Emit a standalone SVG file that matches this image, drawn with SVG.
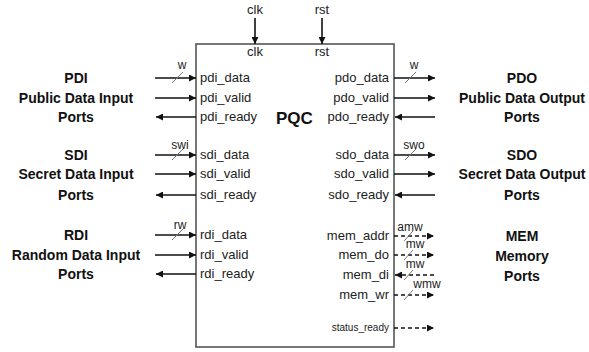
<svg xmlns="http://www.w3.org/2000/svg" width="589" height="352" viewBox="0 0 589 352">
<defs>
<marker id="ah" viewBox="0 0 10 10" refX="10" refY="5" markerWidth="7" markerHeight="7" markerUnits="userSpaceOnUse" orient="auto">
<path d="M0,0 L10,5 L0,10 z" fill="#111"/>
</marker>
</defs>
<style>
.port{font-family:"Liberation Sans",Arial,sans-serif;font-size:13px;fill:#222}
.small{font-family:"Liberation Sans",Arial,sans-serif;font-size:10px;fill:#222}
.w{font-family:"Liberation Sans",Arial,sans-serif;font-size:12px;fill:#222}
.grp{font-family:"Liberation Sans",Arial,sans-serif;font-size:14px;font-weight:bold;fill:#111;text-anchor:middle}
.title{font-family:"Liberation Sans",Arial,sans-serif;font-size:17px;font-weight:bold;fill:#111}
.ln{stroke:#111;stroke-width:1.6;fill:none;marker-end:url(#ah)}
.dash{stroke:#111;stroke-width:1.4;fill:none;stroke-dasharray:4 3;marker-end:url(#ah)}
.sl{stroke:#777;stroke-width:1;fill:none}
</style>
<rect width="589" height="352" fill="#fff"/>
<g id="pqc">
<rect x="196" y="44" width="198" height="303" fill="#fff" stroke="#555" stroke-width="1.6"/>
<text class="title" x="276" y="124">PQC</text>
<text class="port" x="255" y="56" text-anchor="middle">clk</text>
<text class="port" x="322" y="56" text-anchor="middle">rst</text>
<text class="port" x="200" y="82">pdi_data</text>
<text class="port" x="200" y="102">pdi_valid</text>
<text class="port" x="200" y="121">pdi_ready</text>
<text class="port" x="200" y="159">sdi_data</text>
<text class="port" x="200" y="178">sdi_valid</text>
<text class="port" x="200" y="199">sdi_ready</text>
<text class="port" x="200" y="239">rdi_data</text>
<text class="port" x="200" y="259">rdi_valid</text>
<text class="port" x="200" y="278">rdi_ready</text>
<text class="port" x="389" y="82" text-anchor="end">pdo_data</text>
<text class="port" x="389" y="102" text-anchor="end">pdo_valid</text>
<text class="port" x="389" y="121" text-anchor="end">pdo_ready</text>
<text class="port" x="389" y="159" text-anchor="end">sdo_data</text>
<text class="port" x="389" y="178" text-anchor="end">sdo_valid</text>
<text class="port" x="389" y="199" text-anchor="end">sdo_ready</text>
<text class="port" x="389" y="240" text-anchor="end">mem_addr</text>
<text class="port" x="389" y="259" text-anchor="end">mem_do</text>
<text class="port" x="389" y="279" text-anchor="end">mem_di</text>
<text class="port" x="389" y="299" text-anchor="end">mem_wr</text>
<text class="small" x="389" y="331" text-anchor="end">status_ready</text>
</g>
<g id="pdi">
<text class="grp" x="76" y="83">PDI</text>
<text class="grp" x="76" y="103">Public Data Input</text>
<text class="grp" x="76" y="122">Ports</text>
</g>
<g id="sdi">
<text class="grp" x="76" y="160">SDI</text>
<text class="grp" x="76" y="179">Secret Data Input</text>
<text class="grp" x="76" y="200">Ports</text>
</g>
<g id="rdi">
<text class="grp" x="76" y="240">RDI</text>
<text class="grp" x="76" y="260">Random Data Input</text>
<text class="grp" x="76" y="279">Ports</text>
</g>
<g id="pdo">
<text class="grp" x="522" y="83">PDO</text>
<text class="grp" x="522" y="103">Public Data Output</text>
<text class="grp" x="522" y="122">Ports</text>
</g>
<g id="sdo">
<text class="grp" x="522" y="160">SDO</text>
<text class="grp" x="522" y="179">Secret Data Output</text>
<text class="grp" x="522" y="200">Ports</text>
</g>
<g id="mem">
<text class="grp" x="522" y="241">MEM</text>
<text class="grp" x="522" y="261">Memory</text>
<text class="grp" x="522" y="281">Ports</text>
</g>
<g id="connectors">
<text class="port" x="255" y="14" text-anchor="middle">clk</text>
<text class="port" x="322" y="14" text-anchor="middle">rst</text>
<path class="ln" d="M255,18 V44"/>
<path class="ln" d="M322,18 V44"/>
<path class="ln" d="M155,78 H196"/>
<path class="ln" d="M155,98 H196"/>
<path class="ln" d="M196,117 H156"/>
<path class="ln" d="M155,155 H196"/>
<path class="ln" d="M155,174 H196"/>
<path class="ln" d="M196,195 H156"/>
<path class="ln" d="M155,235 H196"/>
<path class="ln" d="M155,255 H196"/>
<path class="ln" d="M196,274 H156"/>
<path class="ln" d="M394,78 H435"/>
<path class="ln" d="M394,98 H435"/>
<path class="ln" d="M435,117 H395"/>
<path class="ln" d="M394,155 H435"/>
<path class="ln" d="M394,174 H435"/>
<path class="ln" d="M435,195 H395"/>
<path class="dash" d="M394,236 H434"/>
<path class="dash" d="M394,255 H434"/>
<path class="dash" d="M434,275 H395"/>
<path class="dash" d="M394,295 H434"/>
<path class="dash" d="M394,328 H434"/>
<path class="sl" d="M172,83 L183,72 M172,160 L183,149 M172,240 L183,229 M405,83 L416,72 M405,160 L416,149 M404,241 L413,231 M404,260 L413,250 M404,280 L413,270 M404,300 L413,290"/>
<text class="w" x="182" y="69" text-anchor="middle">w</text>
<text class="w" x="180" y="149" text-anchor="middle">swi</text>
<text class="w" x="180" y="229" text-anchor="middle">rw</text>
<text class="w" x="414" y="69" text-anchor="middle">w</text>
<text class="w" x="414" y="149" text-anchor="middle">swo</text>
<text class="w" x="410" y="231" text-anchor="middle">amw</text>
<text class="w" x="415" y="248" text-anchor="middle">mw</text>
<text class="w" x="415" y="268" text-anchor="middle">mw</text>
<text class="w" x="427" y="288" text-anchor="middle">wmw</text>
</g>
</svg>
